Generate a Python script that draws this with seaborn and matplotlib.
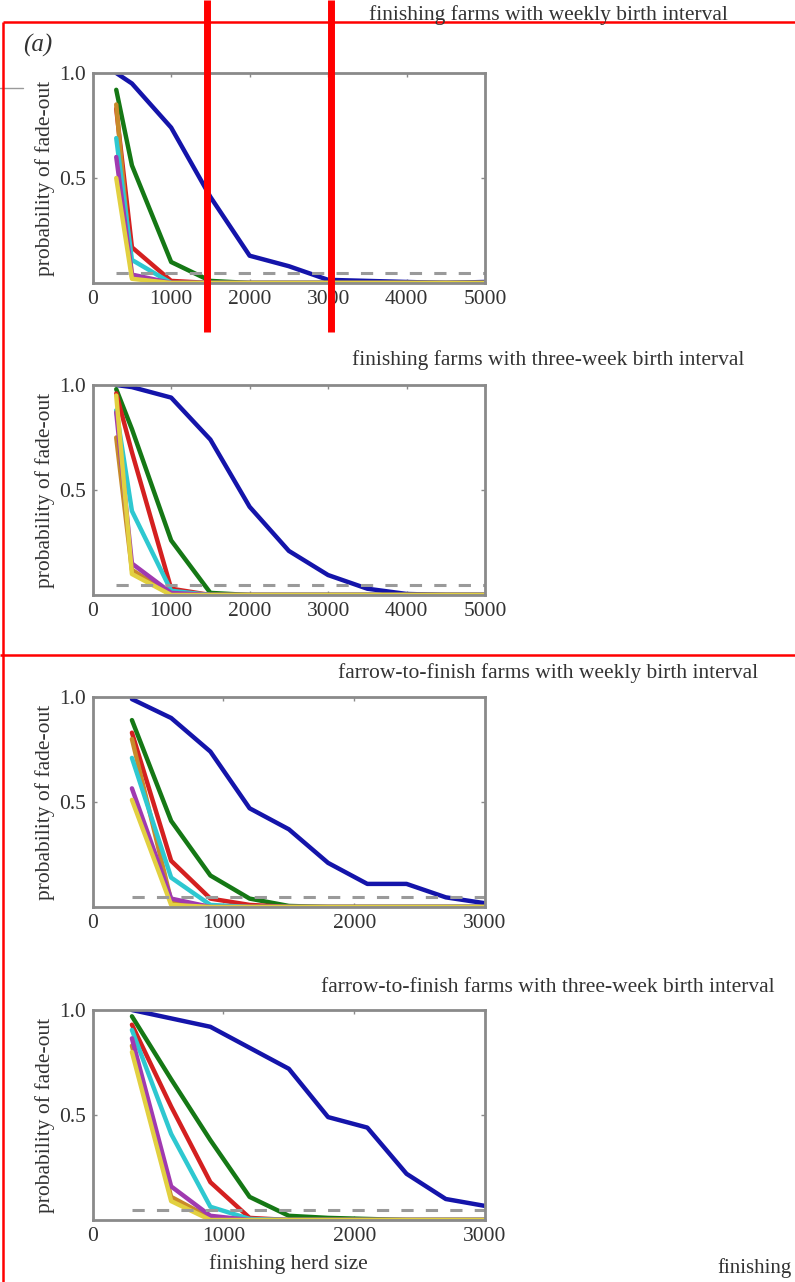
import numpy as np
import pandas as pd
import seaborn as sns
import matplotlib
matplotlib.use("Agg")
import matplotlib.pyplot as plt
from matplotlib.lines import Line2D

# ---------------- data ----------------
series_names = ["blue", "green", "red", "orange", "cyan", "magenta", "yellow"]

x_fin = [300, 500, 1000, 1500, 2000, 2500, 3000, 3500, 4000, 4500, 5000]
x_f2f = [300, 600, 900, 1200, 1500, 1800, 2100, 2400, 2700, 3000]

# finishing farms, weekly birth interval
p1_blue    = [1.00, 0.95, 0.74, 0.41, 0.13, 0.08, 0.015, 0.01, 0.005, 0.0, 0.005]
p1_green   = [0.92, 0.56, 0.10, 0.01, 0.0, 0.0, 0.0, 0.0, 0.0, 0.0, 0.0]
p1_red     = [0.83, 0.17, 0.01, 0.0, 0.0, 0.0, 0.0, 0.0, 0.0, 0.0, 0.0]
p1_orange  = [0.85, 0.03, 0.0, 0.0, 0.0, 0.0, 0.0, 0.0, 0.0, 0.0, 0.0]
p1_cyan    = [0.69, 0.11, 0.0, 0.0, 0.0, 0.0, 0.0, 0.0, 0.0, 0.0, 0.0]
p1_magenta = [0.60, 0.04, 0.0, 0.0, 0.0, 0.0, 0.0, 0.0, 0.0, 0.0, 0.0]
p1_yellow  = [0.50, 0.02, 0.0, 0.0, 0.0, 0.0, 0.0, 0.0, 0.0, 0.0, 0.0]

# finishing farms, three-week birth interval
p2_blue    = [1.00, 0.99, 0.94, 0.74, 0.42, 0.21, 0.095, 0.03, 0.005, 0.0, 0.0]
p2_green   = [0.98, 0.79, 0.26, 0.01, 0.0, 0.0, 0.0, 0.0, 0.0, 0.0, 0.0]
p2_red     = [0.96, 0.68, 0.03, 0.0, 0.0, 0.0, 0.0, 0.0, 0.0, 0.0, 0.0]
p2_orange  = [0.75, 0.12, 0.0, 0.0, 0.0, 0.0, 0.0, 0.0, 0.0, 0.0, 0.0]
p2_cyan    = [0.88, 0.40, 0.02, 0.0, 0.0, 0.0, 0.0, 0.0, 0.0, 0.0, 0.0]
p2_magenta = [0.87, 0.15, 0.01, 0.0, 0.0, 0.0, 0.0, 0.0, 0.0, 0.0, 0.0]
p2_yellow  = [0.95, 0.10, 0.0, 0.0, 0.0, 0.0, 0.0, 0.0, 0.0, 0.0, 0.0]

# farrow-to-finish farms, weekly birth interval
p3_blue    = [0.99, 0.90, 0.74, 0.47, 0.37, 0.21, 0.11, 0.11, 0.046, 0.018]
p3_green   = [0.89, 0.41, 0.15, 0.04, 0.005, 0.0, 0.0, 0.0, 0.0, 0.0]
p3_red     = [0.83, 0.22, 0.04, 0.01, 0.0, 0.0, 0.0, 0.0, 0.0, 0.0]
p3_orange  = [0.80, 0.03, 0.0, 0.0, 0.0, 0.0, 0.0, 0.0, 0.0, 0.0]
p3_cyan    = [0.71, 0.14, 0.01, 0.0, 0.0, 0.0, 0.0, 0.0, 0.0, 0.0]
p3_magenta = [0.565, 0.04, 0.0, 0.0, 0.0, 0.0, 0.0, 0.0, 0.0, 0.0]
p3_yellow  = [0.51, 0.01, 0.0, 0.0, 0.0, 0.0, 0.0, 0.0, 0.0, 0.0]

# farrow-to-finish farms, three-week birth interval
p4_blue    = [1.00, 0.96, 0.92, 0.82, 0.72, 0.49, 0.44, 0.22, 0.10, 0.067]
p4_green   = [0.97, 0.67, 0.38, 0.11, 0.02, 0.01, 0.005, 0.0, 0.0, 0.0]
p4_red     = [0.93, 0.54, 0.18, 0.01, 0.0, 0.0, 0.0, 0.0, 0.0, 0.0]
p4_orange  = [0.83, 0.11, 0.01, 0.0, 0.0, 0.0, 0.0, 0.0, 0.0, 0.0]
p4_cyan    = [0.905, 0.41, 0.063, 0.005, 0.0, 0.0, 0.0, 0.0, 0.0, 0.0]
p4_magenta = [0.865, 0.16, 0.02, 0.0, 0.0, 0.0, 0.0, 0.0, 0.0, 0.0]
p4_yellow  = [0.80, 0.09, 0.0, 0.0, 0.0, 0.0, 0.0, 0.0, 0.0, 0.0]

threshold = 0.05

titles = [
    "finishing farms with weekly birth interval",
    "finishing farms with three-week birth interval",
    "farrow-to-finish farms with weekly birth interval",
    "farrow-to-finish farms with three-week birth interval",
]
xticks_fin = [0, 1000, 2000, 3000, 4000, 5000]
xticks_f2f = [0, 1000, 2000, 3000]
yticks = [0.5, 1.0]
ylabel = "probability of fade-out"
xlabel = "finishing herd size"
stray_label = "finishing"

palette = {
    "blue": "#1414aa",
    "green": "#157815",
    "red": "#d42020",
    "orange": "#c88a2a",
    "cyan": "#2ec8d0",
    "magenta": "#a03ab0",
    "yellow": "#e2d040",
}

panels = [
    (x_fin, [p1_blue, p1_green, p1_red, p1_orange, p1_cyan, p1_magenta, p1_yellow], 5000, xticks_fin),
    (x_fin, [p2_blue, p2_green, p2_red, p2_orange, p2_cyan, p2_magenta, p2_yellow], 5000, xticks_fin),
    (x_f2f, [p3_blue, p3_green, p3_red, p3_orange, p3_cyan, p3_magenta, p3_yellow], 3000, xticks_f2f),
    (x_f2f, [p4_blue, p4_green, p4_red, p4_orange, p4_cyan, p4_magenta, p4_yellow], 3000, xticks_f2f),
]

# ---------------- style ----------------
sns.set_theme(style="ticks")
plt.rcParams["font.family"] = ["Liberation Serif", "DejaVu Serif"]
plt.rcParams["axes.edgecolor"] = "#8a8a8a"

W, H = 795, 1282
fig = plt.figure(figsize=(W / 100, H / 100), dpi=100)

text_col = "#333333"
fs = 15.5
ax_left = 92.7 / W
ax_w = (485 - 92.7) / W
ax_h = 210 / H
ax_tops = [73, 385, 697, 1010]
title_y = [15, 360, 673, 987]

for i, (xs, ys, xmax, xt) in enumerate(panels):
    top = ax_tops[i]
    ax = fig.add_axes([ax_left, 1 - (top + 210) / H, ax_w, ax_h])
    df = pd.DataFrame({
        "x": np.tile(xs, len(series_names)),
        "p": np.concatenate(ys),
        "s": np.repeat(series_names, len(xs)),
    })
    sns.lineplot(data=df, x="x", y="p", hue="s", hue_order=series_names,
                 palette=palette, linewidth=3.2, legend=False, ax=ax,
                 estimator=None, sort=False)
    thr = pd.DataFrame({"x": [xs[0], xmax], "p": [threshold, threshold]})
    sns.lineplot(data=thr, x="x", y="p", color="#9a9a9a", linewidth=2.2,
                 linestyle=(0, (4, 4)), ax=ax, legend=False)
    ax.set_xlim(0, xmax)
    ax.set_ylim(0, 1)
    ax.set_xticks(xt)
    ax.set_yticks(yticks)
    ax.set_yticklabels(["0.5", "1.0"])
    ax.tick_params(direction="in", length=3, width=1, colors="#8a8a8a",
                   labelcolor=text_col, labelsize=fs, top=True, right=True,
                   pad=5)
    for sp in ax.spines.values():
        sp.set_linewidth(2.0)
        sp.set_color("#8a8a8a")
        sp.set_visible(True)
    ax.set_ylabel(ylabel, fontsize=fs, color=text_col, labelpad=3)
    if i == 3:
        ax.set_xlabel(xlabel, fontsize=fs, color=text_col, labelpad=6)
    else:
        ax.set_xlabel("")
    fig.text(548 / W, 1 - title_y[i] / H, titles[i], ha="center", va="center",
             fontsize=fs, color=text_col)

# panel letter and stray text
fig.text(38 / W, 1 - 45 / H, "(a)", ha="center", va="center", fontsize=18,
         style="italic", color=text_col)
fig.text(792 / W, 1 - 1268 / H, stray_label, ha="right", va="center",
         fontsize=15, color=text_col)
fig.add_artist(Line2D([0, 23 / W], [1 - 88 / H, 1 - 88 / H],
                      transform=fig.transFigure, color="#9a9a9a", lw=1))

# red annotation overlay
def fline(x0, y0, x1, y1, lw):
    fig.add_artist(Line2D([x0 / W, x1 / W], [1 - y0 / H, 1 - y1 / H],
                          transform=fig.transFigure, color="#ff0000", lw=lw,
                          solid_capstyle="butt"))

fline(3, 22, W, 22, 1.8)
fline(3, 22, 3, H, 1.8)
fline(0, 655, W, 655, 1.8)
fline(207, 0, 207, 332, 5.0)
fline(331, 0, 331, 332, 5.0)

fig.savefig("out.png", dpi=100, facecolor="white")
